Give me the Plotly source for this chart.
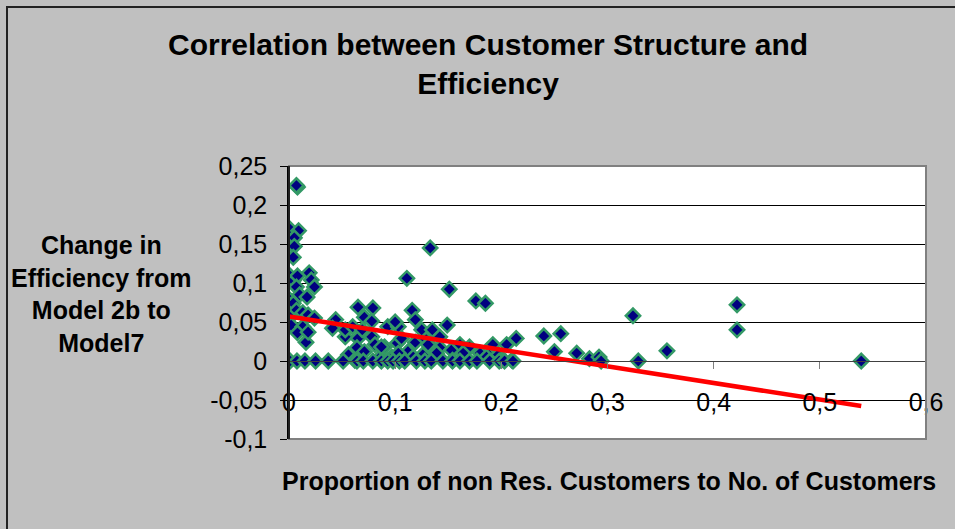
import plotly.graph_objects as go

# ---------------- data ----------------
x_values = [
    0.008, 0.007, 0.001, 0.009, 0.005, 0.005, 0.004, 0.001, 0.004, 0.008, 0.019, 0.021,
    0.024, 0.007, 0.010, 0.017, 0.001, 0.004, 0.007, 0.013, 0.018, 0.024, 0.001, 0.002,
    0.013, 0.008, 0.016, 0.018,
    0.044, 0.041, 0.053, 0.053, 0.060, 0.065, 0.079, 0.071, 0.078, 0.065, 0.069, 0.078,
    0.064, 0.071, 0.081, 0.090, 0.086, 0.097, 0.102, 0.093, 0.103, 0.100, 0.116, 0.119,
    0.106, 0.119, 0.128, 0.125, 0.112, 0.126, 0.135, 0.109, 0.133, 0.111, 0.151, 0.176,
    0.185, 0.149, 0.135, 0.142, 0.131, 0.142, 0.153, 0.161, 0.170, 0.180, 0.189, 0.197,
    0.192, 0.205, 0.214, 0.139, 0.164, 0.186, 0.154, 0.200, 0.210, 0.103, 0.117, 0.087,
    0.056, 0.062,
    0.240, 0.256, 0.250, 0.271, 0.283, 0.292, 0.294, 0.324, 0.329, 0.356, 0.422, 0.422,
    0.539,
    0.001, 0.0075, 0.015, 0.025, 0.037, 0.051, 0.064, 0.070, 0.079, 0.087, 0.093, 0.098,
    0.104, 0.109, 0.120, 0.128, 0.134, 0.145, 0.154, 0.161, 0.170, 0.177, 0.189, 0.198,
    0.203, 0.211,
]
y_values = [
    0.223, 0.225, 0.169, 0.167, 0.158, 0.147, 0.133, 0.109, 0.103, 0.109, 0.113, 0.104,
    0.095, 0.095, 0.085, 0.082, 0.078, 0.074, 0.065, 0.062, 0.059, 0.055, 0.056, 0.046,
    0.044, 0.036, 0.024, 0.037,
    0.053, 0.042, 0.031, 0.040, 0.044, 0.069, 0.068, 0.056, 0.051, 0.029, 0.040, 0.031,
    0.017, 0.012, 0.021, 0.018, 0.005, 0.005, 0.023, 0.044, 0.044, 0.050, 0.065, 0.053,
    0.029, 0.024, 0.029, 0.040, 0.012, 0.008, 0.017, 0.001, 0.145, 0.106, 0.092, 0.077,
    0.074, 0.046, 0.040, 0.031, 0.021, 0.017, 0.014, 0.021, 0.018, 0.010, 0.008, 0.008,
    0.021, 0.021, 0.029, 0.010, 0.010, 0.005, 0.001, 0.001, 0.001, 0.010, 0.005, 0.018,
    0.008, 0.001,
    0.032, 0.035, 0.012, 0.010, 0.003, 0.005, 0.000, 0.058, 0.000, 0.013, 0.072, 0.040,
    0.000,
    0, 0, 0, 0, 0, 0, 0, 0, 0, 0, 0, 0,
    0, 0, 0, 0, 0, 0, 0, 0, 0, 0, 0, 0,
    0, 0,
]

# linear trend: y = intercept + slope * x
trend_intercept = 0.057
trend_slope = -0.213
trend_x = [0.0, 0.539]

x_tick_vals = [0, 0.1, 0.2, 0.3, 0.4, 0.5, 0.6]
x_tick_text = ["0", "0,1", "0,2", "0,3", "0,4", "0,5", "0,6"]
y_tick_vals = [0.25, 0.2, 0.15, 0.1, 0.05, 0, -0.05, -0.1]
y_tick_text = ["0,25", "0,2", "0,15", "0,1", "0,05", "0", "-0,05", "-0,1"]

title_text = "Correlation between Customer Structure and<br>Efficiency"
x_title = "Proportion of non Res. Customers to No. of Customers"
y_title = "Change in<br>Efficiency from<br>Model 2b to<br>Model7"

# ---------------- layout geometry (pixels) ----------------
W, H = 955, 529
L, R, T, B = 289, 926, 166, 439
PW, PH = R - L, B - T


def px(xp):
    return (xp - L) / PW


def py(yp):
    return (B - yp) / PH


FONT = "Liberation Sans, Arial, sans-serif"

fig = go.Figure()

fig.add_trace(go.Scatter(
    x=x_values, y=y_values, mode="markers",
    marker=dict(symbol="diamond", size=11, color="#000080",
                line=dict(color="#339966", width=2.5)),
    showlegend=False, hoverinfo="skip",
))

trend_y = [trend_intercept + trend_slope * v for v in trend_x]
fig.add_trace(go.Scatter(
    x=trend_x, y=trend_y, mode="lines",
    line=dict(color="#FF0000", width=4.5),
    showlegend=False, hoverinfo="skip",
))

zero_pos = (0 - (-0.1)) / (0.25 - (-0.1))

fig.update_layout(
    width=W, height=H,
    margin=dict(l=L, r=W - R, t=T, b=H - B, pad=0),
    paper_bgcolor="#C0C0C0",
    plot_bgcolor="#FFFFFF",
    font=dict(family=FONT, size=25, color="#000000"),
    xaxis=dict(
        range=[0, 0.6], tickvals=x_tick_vals, ticktext=x_tick_text,
        showgrid=False, zeroline=False,
        showline=True, linecolor="#404040", linewidth=1,
        ticks="outside", ticklen=7, tickcolor="#808080", tickwidth=1,
        anchor="free", position=zero_pos,
        ticklabelstandoff=12,
        tickfont=dict(family=FONT, size=25, color="#000000"),
    ),
    yaxis=dict(
        range=[-0.1, 0.25], tickvals=y_tick_vals, ticktext=y_tick_text,
        showgrid=True, gridcolor="#000000", gridwidth=1,
        zeroline=False,
        showline=True, linecolor="#000000", linewidth=1.5,
        ticks="outside", ticklen=7, tickcolor="#000000", tickwidth=1,
        ticklabelstandoff=8,
        tickfont=dict(family=FONT, size=25, color="#000000"),
    ),
    shapes=[
        dict(type="rect", xref="paper", yref="paper", x0=0, x1=1, y0=0, y1=1,
             line=dict(color="#808080", width=2), layer="above"),
        dict(type="rect", xref="paper", yref="paper",
             x0=px(7), x1=px(W + 20), y0=py(H + 20), y1=py(7),
             line=dict(color="#222222", width=2), layer="above"),
        dict(type="line", xref="paper", yref="paper", x0=0, x1=0, y0=0, y1=1,
             line=dict(color="#000000", width=1.5), layer="above"),
    ],
    annotations=[
        dict(text=title_text, xref="paper", yref="paper", x=px(488), y=py(64),
             xanchor="center", yanchor="middle", showarrow=False,
             font=dict(family=FONT, size=30, color="#000000", weight="bold")),
        dict(text=y_title, xref="paper", yref="paper", x=px(101), y=py(294),
             xanchor="center", yanchor="middle", showarrow=False, align="center",
             font=dict(family=FONT, size=25, color="#000000", weight="bold")),
        dict(text=x_title, xref="paper", yref="paper", x=px(609), y=py(481),
             xanchor="center", yanchor="middle", showarrow=False,
             font=dict(family=FONT, size=25, color="#000000", weight="bold")),
    ],
)

fig.write_html("out.html", config={"displayModeBar": False},
               post_script="document.body.style.margin='0';")
